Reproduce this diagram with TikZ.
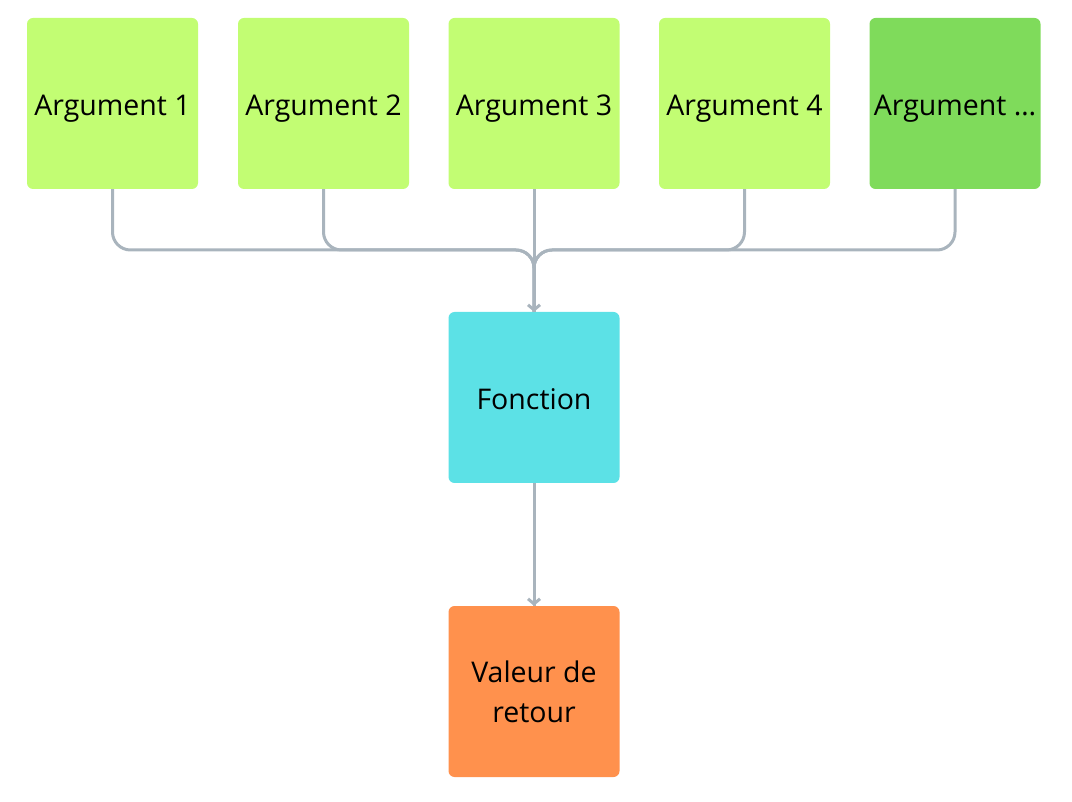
\documentclass[tikz,border=0pt]{standalone}
\usepackage{fontspec}
\setmainfont{Open Sans}
\usetikzlibrary{arrows.meta}

\definecolor{lime}{HTML}{C2FD73}
\definecolor{leaf}{HTML}{7FDB5B}
\definecolor{cyanbox}{HTML}{5CE1E6}
\definecolor{orangebox}{HTML}{FF914D}
\definecolor{wire}{HTML}{A9B4BD}

\tikzset{
  box/.style={minimum width=171pt, minimum height=171pt, rounded corners=6pt,
    inner sep=0pt, align=center, font=\fontsize{28.5}{40}\selectfont},
  oneline/.style={text height=25pt, text depth=0pt},
  wireline/.style={draw=wire, line width=3pt, rounded corners=18pt},
  tip/.style={wireline, -{Straight Barb[length=5pt,width=12pt]}}
}

\begin{document}
\begin{tikzpicture}[x=1pt,y=-1pt]
\useasboundingbox (0,0) rectangle (1072,802);

\draw (112.5,103.5) node (11) [box,oneline,fill=lime] {Argument 1};
\draw (323.5,103.5) node (12) [box,oneline,fill=lime] {Argument 2};
\draw (534,103.5)   node (13) [box,oneline,fill=lime] {Argument 3};
\draw (744.5,103.5) node (14) [box,oneline,fill=lime] {Argument 4};
\draw (955,103.5)   node (15) [box,oneline,fill=leaf] {Argument \dots};

\draw (534,397.5)   node (23) [box,oneline,fill=cyanbox] {Fonction};
\coordinate (j) at (534,250);
\coordinate (j2) at (534,290);

\draw (534,691.5)   node (33) [box,fill=orangebox] {Valeur de\\retour};
\coordinate (k) at (534,585);

\draw[wireline] (11.south) |- (j) -- (23.north);
\draw[wireline] (12.south) |- (j) -- (23.north);
\draw[wireline] (14.south) |- (j) -- (23.north);
\draw[wireline] (15.south) |- (j) -- (23.north);
\draw[wireline] (13.south) -- (23.north);
\draw[tip] (j2) -- (23.north);

\draw[wireline] (23.south) -- (33.north);
\draw[tip] (k) -- (33.north);
\end{tikzpicture}
\end{document}
